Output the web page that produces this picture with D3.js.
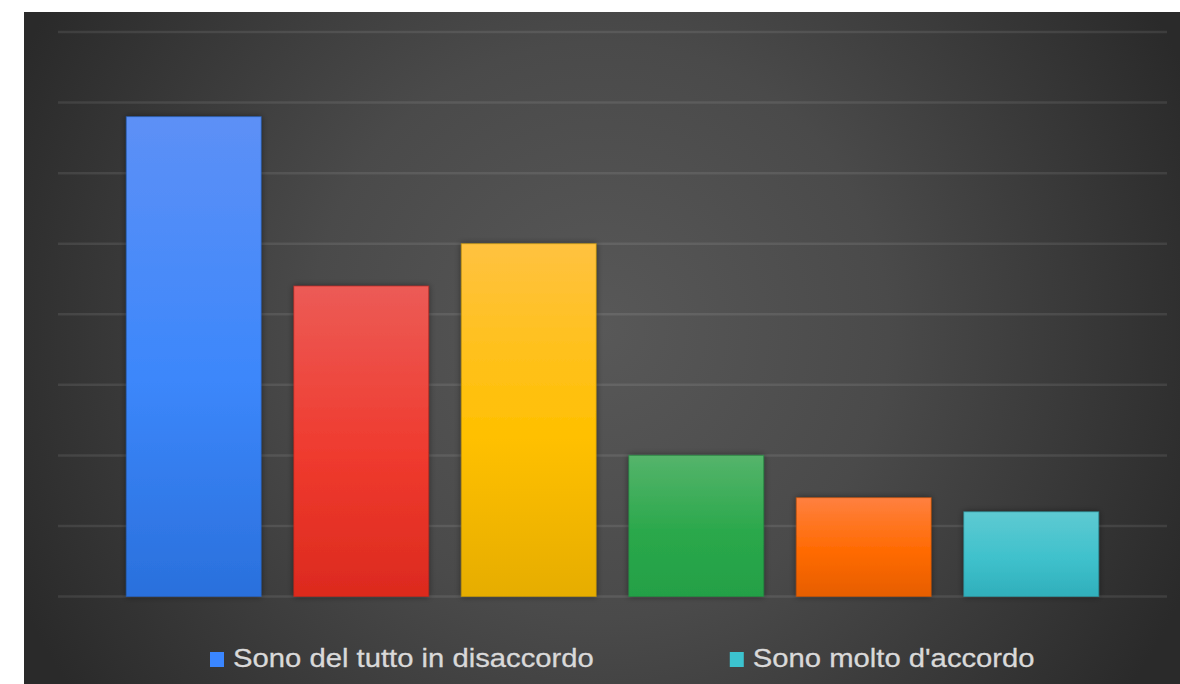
<!DOCTYPE html>
<html>
<head>
<meta charset="utf-8">
<script src="https://cdn.jsdelivr.net/npm/d3@7"></script>
<style>
  html, body { margin: 0; padding: 0; background: #ffffff; }
  svg { display: block; }
</style>
</head>
<body>
<svg id="chart" width="1180" height="684"></svg>
<script>
// ---- data ----
const categories = [
  "Sono del tutto in disaccordo",
  "Sono in disaccordo",
  "Sono parzialmente in disaccordo",
  "Sono parzialmente d'accordo",
  "Sono d'accordo",
  "Sono molto d'accordo"
];
const values = [68, 44, 50, 20, 14, 12];
const yTicks = [0, 10, 20, 30, 40, 50, 60, 70, 80];
const legendItems = ["Sono del tutto in disaccordo", "Sono molto d'accordo"];
const legendColors = ["#3a86ff", "#3cc3cf"];
const topColors = ["#5d90f6", "#ec5b56", "#ffc240", "#55b46b", "#ff8040", "#5ecad2"];
const midColors = ["#3c87fb", "#ef3a2e", "#ffc000", "#2aa84b", "#ff6a00", "#3fc1cc"];
const botColors = ["#2a70dc", "#dc2a1e", "#e6ad00", "#24a046", "#e65e00", "#30afbb"];

// ---- layout ----
const W = 1180, H = 684;
const panel = { x: 24, y: 12, w: W - 24, h: H - 12 };
const grid = { x0: 58, x1: 1167 };
const plot = { x0: 110, x1: 1115, top: 32, bottom: 596.5 };

const svg = d3.select("#chart");
const defs = svg.append("defs");

// background radial gradient
const bg = defs.append("radialGradient").attr("id", "bgGrad")
  .attr("gradientUnits", "userSpaceOnUse")
  .attr("cx", 600).attr("cy", 330).attr("r", 640);
bg.append("stop").attr("offset", "0%").attr("stop-color", "#585858");
bg.append("stop").attr("offset", "45%").attr("stop-color", "#4a4a4a");
bg.append("stop").attr("offset", "100%").attr("stop-color", "#2a2a2a");

svg.append("rect")
  .attr("x", panel.x).attr("y", panel.y)
  .attr("width", panel.w).attr("height", panel.h)
  .attr("fill", "url(#bgGrad)");

// bar shadow filter
const f = defs.append("filter").attr("id", "shadow")
  .attr("x", "-10%").attr("y", "-10%").attr("width", "120%").attr("height", "120%");
f.append("feDropShadow").attr("dx", 0).attr("dy", 0)
  .attr("stdDeviation", 3).attr("flood-color", "#000").attr("flood-opacity", 0.45);

// scales
const x = d3.scaleBand().domain(categories).range([plot.x0, plot.x1]).paddingInner(0.195).paddingOuter(0.0975);
const y = d3.scaleLinear().domain([0, d3.max(yTicks)]).range([plot.bottom, plot.top]);

// gridlines
svg.append("g").selectAll("line").data(yTicks).join("line")
  .attr("x1", grid.x0).attr("x2", grid.x1)
  .attr("y1", d => y(d)).attr("y2", d => y(d))
  .attr("stroke", "rgba(255,255,255,0.09)")
  .attr("stroke-width", 2.5);

// bar gradients
categories.forEach((c, i) => {
  const g = defs.append("linearGradient").attr("id", "bar" + i)
    .attr("x1", 0).attr("y1", 0).attr("x2", 0).attr("y2", 1);
  g.append("stop").attr("offset", "0%").attr("stop-color", topColors[i]);
  g.append("stop").attr("offset", "55%").attr("stop-color", midColors[i]);
  g.append("stop").attr("offset", "100%").attr("stop-color", botColors[i]);
});

svg.append("g").selectAll("rect").data(values).join("rect")
  .attr("x", (d, i) => x(categories[i]))
  .attr("y", d => y(d))
  .attr("width", x.bandwidth())
  .attr("height", d => y(0) - y(d))
  .attr("fill", (d, i) => `url(#bar${i})`)
  .attr("stroke", (d, i) => d3.color(botColors[i]).darker(0.4))
  .attr("stroke-opacity", 0.6)
  .attr("stroke-width", 1)
  .attr("filter", "url(#shadow)");

// legend
const lg = svg.append("g");
const fontSize = 26, stretch = 1.125, sq = 14, gapSq = 9, gapItem = 136;
let cx = 210;
legendItems.forEach((name, i) => {
  lg.append("rect").attr("x", cx).attr("y", 652).attr("width", sq).attr("height", 15)
    .attr("fill", legendColors[i]);
  const tx = cx + sq + gapSq;
  const t = lg.append("text")
    .attr("transform", `translate(${tx},667) scale(${stretch},1)`)
    .attr("font-family", "'Liberation Sans', Arial, sans-serif")
    .attr("font-size", fontSize)
    .attr("fill", "#d9d9d9")
    .attr("stroke", "#d9d9d9")
    .attr("stroke-width", 0.3)
    .text(name);
  const w = t.node().getComputedTextLength() * stretch;
  cx = tx + w + gapItem;
});
</script>
</body>
</html>
